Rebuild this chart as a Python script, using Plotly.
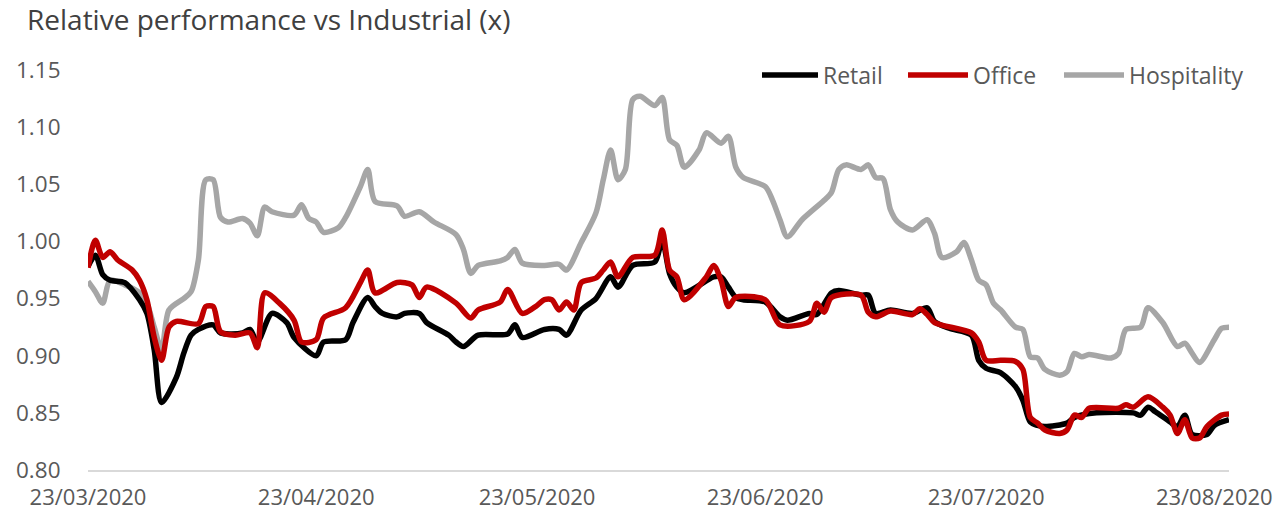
import plotly.graph_objects as go

# ---------------- data ----------------
retail_dates = ["2020-03-23","2020-03-24","2020-03-25","2020-03-26","2020-03-28","2020-03-30","2020-03-31",
    "2020-04-01","2020-04-02","2020-04-04","2020-04-05","2020-04-06","2020-04-07","2020-04-09","2020-04-10",
    "2020-04-13","2020-04-14","2020-04-15","2020-04-17","2020-04-19","2020-04-20","2020-04-23","2020-04-24",
    "2020-04-27","2020-04-28","2020-04-30","2020-05-01","2020-05-02","2020-05-04","2020-05-05","2020-05-07",
    "2020-05-08","2020-05-11","2020-05-12","2020-05-13","2020-05-15","2020-05-19","2020-05-20","2020-05-21",
    "2020-05-24","2020-05-26","2020-05-27","2020-05-29","2020-05-31","2020-06-02","2020-06-03","2020-06-05",
    "2020-06-08","2020-06-09","2020-06-10","2020-06-11","2020-06-12","2020-06-16","2020-06-17","2020-06-18",
    "2020-06-19","2020-06-20","2020-06-23","2020-06-25","2020-06-26","2020-06-29","2020-06-30","2020-07-02",
    "2020-07-03","2020-07-06","2020-07-07","2020-07-08","2020-07-10","2020-07-13","2020-07-15","2020-07-16",
    "2020-07-18","2020-07-21","2020-07-22","2020-07-23","2020-07-25","2020-07-27","2020-07-28","2020-07-29",
    "2020-07-30","2020-07-31","2020-08-03","2020-08-04","2020-08-07","2020-08-12","2020-08-13","2020-08-14",
    "2020-08-15","2020-08-17","2020-08-18","2020-08-19","2020-08-20","2020-08-22","2020-08-23","2020-08-25"]
retail_values = [0.978,0.988,0.971,0.966,0.964,0.949,0.937,
    0.905,0.859,0.881,0.902,0.918,0.923,0.927,0.920,
    0.920,0.923,0.912,0.937,0.929,0.916,0.900,0.912,
    0.914,0.929,0.951,0.943,0.937,0.934,0.937,0.937,
    0.929,0.918,0.912,0.908,0.918,0.919,0.927,0.916,
    0.923,0.923,0.918,0.940,0.950,0.969,0.960,0.979,
    0.982,1.001,0.972,0.960,0.955,0.969,0.969,0.960,
    0.951,0.949,0.947,0.934,0.931,0.937,0.936,0.955,
    0.957,0.953,0.953,0.937,0.940,0.937,0.942,0.930,
    0.924,0.918,0.896,0.889,0.885,0.873,0.861,0.842,
    0.839,0.838,0.841,0.846,0.850,0.850,0.848,0.855,
    0.851,0.842,0.838,0.848,0.831,0.831,0.839,0.844]

office_dates = ["2020-03-23","2020-03-24","2020-03-25","2020-03-26","2020-03-27","2020-03-29","2020-03-30",
    "2020-03-31","2020-04-01","2020-04-02","2020-04-03","2020-04-04","2020-04-07","2020-04-08","2020-04-09",
    "2020-04-10","2020-04-12","2020-04-14","2020-04-15","2020-04-16","2020-04-18","2020-04-20","2020-04-21",
    "2020-04-23","2020-04-24","2020-04-27","2020-04-29","2020-04-30","2020-05-01","2020-05-04","2020-05-06",
    "2020-05-07","2020-05-08","2020-05-12","2020-05-14","2020-05-15","2020-05-18","2020-05-19","2020-05-21",
    "2020-05-23","2020-05-24","2020-05-25","2020-05-26","2020-05-27","2020-05-28","2020-05-29","2020-05-31",
    "2020-06-01","2020-06-02","2020-06-03","2020-06-05","2020-06-08","2020-06-09","2020-06-10","2020-06-11",
    "2020-06-12","2020-06-15","2020-06-16","2020-06-17","2020-06-18","2020-06-19","2020-06-23","2020-06-25",
    "2020-06-29","2020-06-30","2020-07-01","2020-07-02","2020-07-06","2020-07-07","2020-07-08","2020-07-10",
    "2020-07-13","2020-07-14","2020-07-15","2020-07-16","2020-07-21","2020-07-22","2020-07-23","2020-07-25",
    "2020-07-27","2020-07-28","2020-07-29","2020-07-30","2020-07-31","2020-08-02","2020-08-03","2020-08-04",
    "2020-08-05","2020-08-06","2020-08-10","2020-08-11","2020-08-12","2020-08-14","2020-08-16","2020-08-17",
    "2020-08-18","2020-08-19","2020-08-20","2020-08-21","2020-08-22","2020-08-24","2020-08-25"]
office_values = [0.977,1.001,0.986,0.991,0.984,0.975,0.966,
    0.949,0.916,0.896,0.925,0.930,0.928,0.943,0.943,
    0.921,0.918,0.920,0.907,0.955,0.946,0.931,0.912,
    0.914,0.933,0.942,0.964,0.975,0.955,0.964,0.962,
    0.951,0.960,0.946,0.933,0.940,0.947,0.958,0.937,
    0.944,0.949,0.949,0.940,0.947,0.940,0.964,0.968,
    0.975,0.982,0.969,0.986,0.988,1.010,0.975,0.969,
    0.949,0.969,0.979,0.966,0.943,0.951,0.949,0.927,
    0.930,0.946,0.938,0.951,0.953,0.938,0.934,0.939,
    0.936,0.941,0.936,0.929,0.920,0.912,0.896,0.896,
    0.895,0.888,0.846,0.841,0.835,0.832,0.835,0.848,
    0.846,0.854,0.854,0.857,0.855,0.864,0.855,0.848,
    0.832,0.844,0.828,0.828,0.838,0.848,0.849]

hosp_dates = ["2020-03-23","2020-03-24","2020-03-25","2020-03-26","2020-03-28","2020-03-30","2020-03-31",
    "2020-04-01","2020-04-02","2020-04-03","2020-04-05","2020-04-06","2020-04-07","2020-04-08","2020-04-09",
    "2020-04-10","2020-04-11","2020-04-13","2020-04-14","2020-04-15","2020-04-16","2020-04-17","2020-04-20",
    "2020-04-21","2020-04-22","2020-04-23","2020-04-24","2020-04-26","2020-04-27","2020-04-29","2020-04-30",
    "2020-05-01","2020-05-04","2020-05-05","2020-05-07","2020-05-09","2020-05-12","2020-05-13","2020-05-14",
    "2020-05-15","2020-05-18","2020-05-19","2020-05-20","2020-05-21","2020-05-24","2020-05-26","2020-05-27",
    "2020-05-29","2020-05-31","2020-06-01","2020-06-02","2020-06-03","2020-06-04","2020-06-05","2020-06-06",
    "2020-06-08","2020-06-09","2020-06-10","2020-06-11","2020-06-12","2020-06-14","2020-06-15","2020-06-17",
    "2020-06-18","2020-06-19","2020-06-20","2020-06-23","2020-06-24","2020-06-25","2020-06-26","2020-06-28",
    "2020-07-01","2020-07-02","2020-07-03","2020-07-04","2020-07-06","2020-07-07","2020-07-08","2020-07-09",
    "2020-07-10","2020-07-11","2020-07-13","2020-07-15","2020-07-16","2020-07-17","2020-07-19","2020-07-20",
    "2020-07-21","2020-07-22","2020-07-23","2020-07-24","2020-07-25","2020-07-27","2020-07-28","2020-07-29",
    "2020-07-30","2020-07-31","2020-08-02","2020-08-03","2020-08-04","2020-08-05","2020-08-06","2020-08-09",
    "2020-08-10","2020-08-11","2020-08-13","2020-08-14","2020-08-16","2020-08-18","2020-08-19","2020-08-20",
    "2020-08-21","2020-08-23","2020-08-24","2020-08-25"]
hosp_values = [0.965,0.956,0.946,0.966,0.962,0.955,0.946,
    0.925,0.905,0.940,0.950,0.956,0.984,1.054,1.054,
    1.021,1.017,1.020,1.016,1.005,1.030,1.026,1.023,
    1.032,1.020,1.017,1.008,1.012,1.021,1.048,1.063,
    1.035,1.031,1.022,1.026,1.017,1.006,0.993,0.972,
    0.979,0.983,0.986,0.993,0.981,0.979,0.980,0.975,
    0.999,1.025,1.054,1.080,1.054,1.063,1.124,1.127,
    1.119,1.126,1.089,1.084,1.065,1.080,1.095,1.086,
    1.092,1.065,1.056,1.048,1.036,1.019,1.004,1.019,
    1.036,1.043,1.063,1.067,1.063,1.067,1.056,1.055,
    1.028,1.017,1.010,1.019,1.007,0.986,0.991,0.999,
    0.984,0.966,0.962,0.946,0.940,0.925,0.923,0.899,
    0.898,0.888,0.883,0.886,0.902,0.899,0.901,0.898,
    0.902,0.923,0.925,0.942,0.929,0.908,0.911,0.902,
    0.894,0.914,0.924,0.925]

series_names = ["Retail", "Office", "Hospitality"]
series_colors = ["#000000", "#C00000", "#A6A6A6"]

tick_dates = ["2020-03-23","2020-04-23","2020-05-23","2020-06-23","2020-07-23","2020-08-23"]
tick_labels = ["23/03/2020","23/04/2020","23/05/2020","23/06/2020","23/07/2020","23/08/2020"]
y_ticks = [0.80,0.85,0.90,0.95,1.00,1.05,1.10,1.15]
y_labels = ["0.80","0.85","0.90","0.95","1.00","1.05","1.10","1.15"]

# ---------------- layout geometry (pixels) ----------------
W, H = 1288, 513
ML, MR, MT, MB = 88, 59, 70, 43
PW, PH = W - ML - MR, H - MT - MB

def px_x(p):
    return (p - ML) / PW

def px_y(p):
    return (H - MB - p) / PH

FONT = "Open Sans"
fig = go.Figure()
data = {"Retail": (retail_dates, retail_values),
        "Office": (office_dates, office_values),
        "Hospitality": (hosp_dates, hosp_values)}
# draw order: hospitality at back, retail, office on top
for name in ["Hospitality", "Retail", "Office"]:
    xs, ys = data[name]
    col = series_colors[series_names.index(name)]
    fig.add_trace(go.Scatter(x=xs, y=ys, name=name, mode="lines", showlegend=False,
                             line=dict(color=col, width=5.5, shape="spline", smoothing=0.8)))

# custom legend (long line samples like the original)
legend_line_px = [(762, 818), (908, 968), (1064, 1124)]
legend_y_px = 75
shapes, annots = [], []
for name, col, (x0, x1) in zip(series_names, series_colors, legend_line_px):
    shapes.append(dict(type="line", xref="paper", yref="paper",
                       x0=px_x(x0), x1=px_x(x1), y0=px_y(legend_y_px), y1=px_y(legend_y_px),
                       line=dict(color=col, width=5.5)))
    annots.append(dict(text=name, xref="paper", yref="paper", x=px_x(x1 + 3), y=px_y(legend_y_px),
                       xanchor="left", yanchor="middle", showarrow=False,
                       font=dict(family=FONT, size=23, color="#595959")))

fig.update_layout(
    width=W, height=H,
    paper_bgcolor="white", plot_bgcolor="white",
    margin=dict(l=ML, r=MR, t=MT, b=MB),
    font=dict(family=FONT, color="#595959", size=22),
    title=dict(text="Relative performance vs Industrial (x)", x=27 / W, xanchor="left",
               y=1 - 20 / H, yanchor="middle", font=dict(family=FONT, size=28, color="#404040")),
    shapes=shapes, annotations=annots,
    showlegend=False,
)
fig.update_xaxes(type="date", range=["2020-03-23", "2020-08-25"],
                 tickvals=tick_dates, ticktext=tick_labels, automargin=False,
                 showgrid=False, zeroline=False, showline=True, linecolor="#D9D9D9", linewidth=2,
                 ticks="outside", ticklen=7, tickcolor="rgba(0,0,0,0)",
                 tickfont=dict(family=FONT, size=22, color="#595959"))
fig.update_yaxes(range=[0.80, 1.15], tickvals=y_ticks, ticktext=y_labels, automargin=False,
                 showgrid=False, zeroline=False, showline=False,
                 ticks="outside", ticklen=22, tickcolor="rgba(0,0,0,0)",
                 tickfont=dict(family=FONT, size=22.5, color="#595959"))

fig.write_html("out.html")
